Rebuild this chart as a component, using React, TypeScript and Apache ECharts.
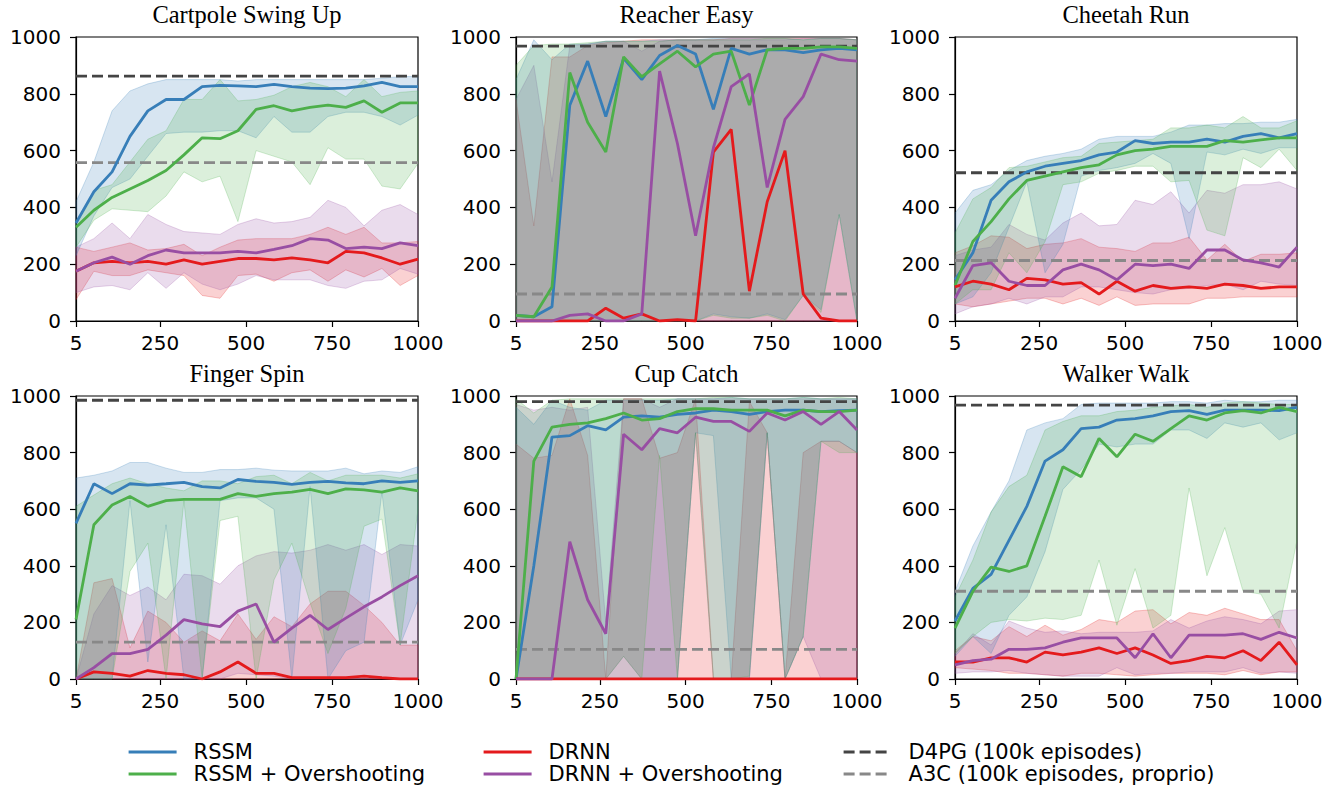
import React, { useEffect, useRef } from "react";
import * as echarts from "echarts";

// Episode positions of the evaluation points
const X = [5, 57, 110, 162, 214, 267, 319, 372, 424, 476, 529, 581, 633, 686, 738, 790, 843, 895, 948, 1000];
const X_TICKS = [5, 250, 500, 750, 1000];
const Z20 = [0, 0, 0, 0, 0, 0, 0, 0, 0, 0, 0, 0, 0, 0, 0, 0, 0, 0, 0, 0];

const TITLES = ["Cartpole Swing Up", "Reacher Easy", "Cheetah Run", "Finger Spin", "Cup Catch", "Walker Walk"];
const METHODS = ["RSSM", "RSSM + Overshooting", "DRNN", "DRNN + Overshooting"];
const BASELINES = ["D4PG (100k episodes)", "A3C (100k episodes, proprio)"];

// Cartpole Swing Up
const cartRssm = [345, 455, 525, 650, 740, 780, 780, 825, 830, 828, 825, 833, 825, 820, 818, 820, 828, 840, 825, 825];
const cartRssmHi = [420, 560, 740, 810, 835, 850, 850, 850, 850, 845, 850, 850, 850, 850, 850, 850, 850, 855, 860, 862];
const cartRssmLo = [230, 370, 470, 500, 580, 660, 665, 665, 670, 670, 645, 720, 665, 665, 720, 735, 735, 720, 690, 725];
const cartOver = [330, 390, 435, 465, 495, 530, 585, 645, 642, 670, 745, 758, 740, 752, 760, 752, 775, 735, 768, 768];
const cartOverHi = [340, 460, 480, 560, 640, 670, 780, 780, 850, 775, 780, 795, 825, 840, 825, 790, 850, 790, 805, 810];
const cartOverLo = [260, 355, 395, 390, 385, 440, 525, 490, 510, 350, 600, 580, 560, 480, 610, 570, 570, 475, 465, 555];
const cartDrnn = [175, 205, 210, 205, 210, 200, 215, 200, 210, 220, 220, 215, 222, 215, 205, 245, 240, 222, 200, 218];
const cartDrnnHi = [260, 245, 260, 275, 250, 255, 270, 230, 260, 285, 290, 290, 290, 305, 330, 305, 330, 275, 275, 280];
const cartDrnnLo = [75, 175, 160, 160, 180, 170, 160, 90, 80, 160, 165, 140, 170, 180, 140, 180, 155, 185, 125, 160];
const cartDrnnOver = [175, 205, 225, 200, 230, 250, 240, 240, 240, 245, 240, 252, 265, 290, 285, 255, 260, 255, 275, 265];
const cartDrnnOverHi = [260, 290, 345, 290, 375, 340, 315, 310, 305, 340, 360, 345, 350, 365, 425, 400, 335, 390, 410, 375];
const cartDrnnOverLo = [100, 120, 125, 110, 170, 115, 170, 130, 110, 130, 160, 145, 145, 145, 125, 115, 140, 145, 185, 165];
const cartBase = [862, 558];

// Reacher Easy
const reachRssm = [20, 15, 50, 760, 915, 720, 925, 850, 935, 970, 940, 745, 960, 940, 955, 955, 945, 955, 960, 955];
const reachRssmHi = [850, 990, 920, 975, 975, 985, 985, 985, 990, 990, 990, 995, 995, 995, 995, 995, 990, 995, 995, 990];
const reachRssmLo = [0, 0, 0, 0, 0, 0, 0, 0, 0, 0, 0, 25, 15, 10, 25, 5, 90, 40, 375, 0];
const reachOver = [20, 15, 120, 875, 700, 595, 930, 860, 905, 950, 895, 940, 950, 760, 955, 960, 960, 965, 965, 960];
const reachOverHi = [900, 970, 975, 975, 980, 985, 985, 985, 985, 990, 990, 990, 990, 990, 995, 995, 990, 995, 995, 990];
const reachOverLo = [0, 0, 0, 0, 0, 0, 0, 0, 0, 0, 0, 20, 10, 10, 20, 0, 90, 30, 375, 0];
const reachDrnn = [0, 0, 0, 0, 0, 45, 10, 25, 0, 5, 0, 595, 675, 105, 420, 600, 95, 10, 0, 0];
const reachDrnnHi = [780, 335, 930, 930, 970, 980, 985, 990, 990, 990, 990, 990, 995, 995, 995, 995, 995, 995, 995, 990];
const reachDrnnLo = Z20;
const reachDrnnOver = [0, 0, 0, 20, 25, 0, 0, 25, 880, 625, 300, 610, 825, 870, 470, 710, 790, 940, 920, 915];
const reachDrnnOverHi = [780, 900, 490, 970, 975, 985, 985, 950, 985, 990, 990, 990, 990, 990, 990, 990, 995, 995, 995, 990];
const reachDrnnOverLo = Z20;
const reachBase = [968, 95];

// Cheetah Run
const cheetRssm = [145, 240, 425, 490, 525, 545, 555, 565, 585, 595, 635, 625, 630, 630, 640, 630, 650, 660, 645, 660];
const cheetRssmHi = [380, 460, 480, 530, 565, 580, 590, 605, 640, 650, 650, 650, 665, 690, 690, 695, 695, 700, 700, 710];
const cheetRssmLo = [60, 85, 170, 330, 490, 170, 270, 510, 530, 540, 555, 590, 555, 290, 595, 585, 605, 590, 610, 610];
const cheetOver = [125, 280, 350, 430, 495, 510, 525, 540, 550, 585, 600, 605, 615, 615, 615, 635, 630, 638, 645, 645];
const cheetOverHi = [310, 430, 470, 540, 545, 560, 575, 580, 625, 630, 635, 640, 680, 680, 690, 680, 720, 680, 680, 705];
const cheetOverLo = [60, 110, 110, 240, 170, 280, 480, 490, 520, 530, 545, 545, 490, 495, 320, 300, 575, 540, 605, 530];
const cheetDrnn = [120, 140, 130, 110, 150, 145, 130, 135, 95, 140, 105, 125, 115, 120, 115, 130, 125, 115, 120, 120];
const cheetDrnnHi = [240, 265, 300, 295, 255, 270, 275, 290, 260, 255, 245, 275, 275, 295, 215, 270, 210, 235, 235, 240];
const cheetDrnnLo = [60, 50, 60, 70, 80, 80, 60, 80, 55, 85, 55, 60, 60, 60, 80, 80, 85, 85, 85, 85];
const cheetDrnnOver = [80, 195, 205, 140, 125, 125, 180, 200, 180, 145, 200, 195, 200, 185, 250, 250, 215, 205, 190, 260];
const cheetDrnnOverHi = [230, 250, 260, 340, 305, 285, 345, 380, 335, 340, 425, 410, 455, 380, 460, 450, 480, 480, 490, 465];
const cheetDrnnOverLo = [25, 50, 60, 80, 60, 85, 85, 120, 120, 110, 100, 95, 110, 115, 125, 130, 110, 140, 130, 125];
const cheetBase = [522, 213];

// Finger Spin
const fingRssm = [550, 690, 655, 690, 685, 690, 695, 680, 675, 705, 698, 695, 688, 695, 698, 693, 690, 700, 695, 700];
const fingRssmHi = [710, 720, 735, 765, 765, 745, 730, 730, 740, 740, 745, 738, 735, 735, 735, 745, 725, 735, 730, 750];
const fingRssmLo = [0, 0, 0, 630, 60, 545, 0, 0, 630, 640, 640, 600, 0, 680, 0, 100, 130, 660, 120, 280];
const fingOver = [210, 545, 615, 645, 610, 630, 635, 635, 635, 655, 645, 655, 660, 670, 655, 672, 668, 660, 675, 665];
const fingOverHi = [610, 650, 690, 710, 690, 675, 665, 700, 700, 690, 715, 720, 690, 730, 700, 720, 720, 720, 710, 725];
const fingOverLo = [0, 0, 0, 380, 480, 0, 630, 0, 560, 575, 0, 350, 480, 270, 90, 250, 540, 565, 120, 600];
const fingDrnn = [0, 25, 20, 10, 30, 20, 15, 0, 25, 60, 20, 20, 5, 5, 5, 5, 10, 5, 0, 0];
const fingDrnnHi = [0, 340, 355, 110, 240, 200, 130, 170, 135, 230, 140, 220, 185, 265, 310, 310, 260, 200, 120, 120];
const fingDrnnLo = Z20;
const fingDrnnOver = [0, 40, 90, 90, 105, 155, 210, 195, 185, 240, 265, 130, 180, 225, 175, 215, 255, 290, 330, 365];
const fingDrnnOverHi = [0, 230, 330, 295, 325, 280, 370, 365, 335, 400, 435, 450, 445, 455, 475, 455, 475, 440, 475, 470];
const fingDrnnOverLo = [0, 0, 0, 0, 0, 0, 0, 0, 0, 20, 15, 10, 0, 0, 0, 0, 0, 0, 0, 0];
const fingBase = [985, 130];

// Cup Catch
const cupRssm = [0, 400, 855, 860, 895, 880, 925, 930, 925, 935, 940, 950, 945, 935, 945, 950, 950, 945, 948, 950];
const cupRssmHi = [960, 900, 985, 960, 950, 985, 985, 985, 985, 990, 990, 990, 995, 990, 990, 990, 995, 990, 990, 990];
const cupRssmLo = [0, 0, 0, 0, 0, 0, 0, 0, 0, 0, 870, 860, 0, 0, 870, 0, 150, 840, 840, 800];
const cupOver = [0, 770, 890, 900, 905, 920, 940, 915, 920, 945, 955, 955, 950, 950, 950, 930, 950, 945, 945, 950];
const cupOverHi = [990, 940, 985, 990, 990, 990, 990, 990, 990, 990, 990, 995, 995, 990, 990, 990, 995, 990, 995, 990];
const cupOverLo = [0, 0, 0, 0, 0, 0, 80, 0, 790, 0, 870, 0, 0, 10, 870, 0, 150, 840, 800, 800];
const cupDrnn = Z20;
const cupDrnnHi = [830, 780, 790, 990, 790, 0, 990, 990, 780, 800, 990, 0, 0, 980, 870, 0, 800, 840, 840, 800];
const cupDrnnLo = Z20;
const cupDrnnOver = [0, 0, 0, 485, 280, 160, 865, 810, 885, 870, 925, 910, 910, 875, 940, 915, 945, 900, 945, 880];
const cupDrnnOverHi = [970, 950, 960, 950, 960, 200, 990, 990, 960, 990, 990, 990, 990, 990, 990, 990, 990, 990, 990, 990];
const cupDrnnOverLo = [0, 0, 0, 0, 0, 0, 80, 0, 0, 0, 870, 0, 0, 0, 870, 0, 150, 0, 0, 0];
const cupBase = [980, 105];

// Walker Walk
const walkRssm = [205, 320, 370, 490, 610, 770, 810, 885, 890, 915, 920, 930, 945, 948, 935, 950, 950, 950, 948, 960];
const walkRssmHi = [310, 470, 590, 700, 880, 905, 920, 970, 975, 975, 975, 975, 980, 980, 975, 985, 980, 980, 985, 985];
const walkRssmLo = [80, 150, 90, 225, 290, 450, 670, 740, 830, 820, 830, 830, 880, 880, 850, 905, 890, 905, 845, 870];
const walkOver = [180, 310, 395, 380, 400, 575, 750, 715, 850, 785, 865, 840, 885, 930, 915, 940, 948, 940, 960, 945];
const walkOverHi = [290, 420, 590, 680, 720, 880, 910, 930, 930, 945, 950, 960, 965, 970, 960, 975, 980, 975, 970, 970];
const walkOverLo = [90, 150, 200, 210, 205, 215, 210, 225, 420, 190, 390, 180, 225, 675, 365, 535, 310, 300, 180, 490];
const walkDrnn = [60, 60, 75, 75, 60, 95, 85, 95, 110, 90, 110, 85, 55, 65, 80, 75, 100, 65, 130, 50];
const walkDrnnHi = [100, 150, 135, 185, 150, 190, 155, 175, 210, 200, 240, 245, 195, 235, 225, 250, 230, 210, 210, 100];
const walkDrnnLo = [40, 35, 30, 20, 20, 15, 10, 20, 20, 15, 10, 15, 20, 20, 20, 15, 30, 15, 25, 25];
const walkDrnnOver = [50, 65, 70, 105, 105, 110, 130, 145, 145, 145, 75, 160, 75, 155, 155, 155, 160, 140, 165, 145];
const walkDrnnOverHi = [90, 160, 120, 205, 180, 165, 170, 160, 165, 165, 165, 170, 210, 180, 205, 220, 210, 195, 240, 245];
const walkDrnnOverLo = [20, 25, 25, 30, 20, 15, 10, 10, 10, 40, 15, 20, 20, 25, 25, 25, 40, 20, 25, 20];
const walkBase = [968, 310];

const PANEL_DATA = [
  { lines: [cartRssm, cartOver, cartDrnn, cartDrnnOver], hi: [cartRssmHi, cartOverHi, cartDrnnHi, cartDrnnOverHi], lo: [cartRssmLo, cartOverLo, cartDrnnLo, cartDrnnOverLo], base: cartBase },
  { lines: [reachRssm, reachOver, reachDrnn, reachDrnnOver], hi: [reachRssmHi, reachOverHi, reachDrnnHi, reachDrnnOverHi], lo: [reachRssmLo, reachOverLo, reachDrnnLo, reachDrnnOverLo], base: reachBase },
  { lines: [cheetRssm, cheetOver, cheetDrnn, cheetDrnnOver], hi: [cheetRssmHi, cheetOverHi, cheetDrnnHi, cheetDrnnOverHi], lo: [cheetRssmLo, cheetOverLo, cheetDrnnLo, cheetDrnnOverLo], base: cheetBase },
  { lines: [fingRssm, fingOver, fingDrnn, fingDrnnOver], hi: [fingRssmHi, fingOverHi, fingDrnnHi, fingDrnnOverHi], lo: [fingRssmLo, fingOverLo, fingDrnnLo, fingDrnnOverLo], base: fingBase },
  { lines: [cupRssm, cupOver, cupDrnn, cupDrnnOver], hi: [cupRssmHi, cupOverHi, cupDrnnHi, cupDrnnOverHi], lo: [cupRssmLo, cupOverLo, cupDrnnLo, cupDrnnOverLo], base: cupBase },
  { lines: [walkRssm, walkOver, walkDrnn, walkDrnnOver], hi: [walkRssmHi, walkOverHi, walkDrnnHi, walkDrnnOverHi], lo: [walkRssmLo, walkOverLo, walkDrnnLo, walkDrnnOverLo], base: walkBase },
];

// Styling / layout
const COLORS = ["#377eb8", "#4daf4a", "#e41a1c", "#984ea3"];
const RGB = ["55,126,184", "77,175,74", "228,26,28", "152,78,163"];
const BAND_ORDER = [2, 3, 0, 1];
const BASE_COLORS = ["#444444", "#888888"];
const COL_LEFT = [76, 516, 955];
const COL_W = [342, 341, 342];
const ROW_TOP = [37, 396];
const ROW_H = [284, 283];
const TICK_FONT = "DejaVu Sans";
const TITLE_FONT = "Liberation Serif";

function buildOption() {
  const grids: any[] = [];
  const xAxes: any[] = [];
  const yAxes: any[] = [];
  const series: any[] = [];
  const titles: any[] = [];

  PANEL_DATA.forEach((p, k) => {
    const r = Math.floor(k / 3);
    const c = k % 3;
    grids.push({
      left: COL_LEFT[c],
      top: ROW_TOP[r],
      width: COL_W[c],
      height: ROW_H[r],
      show: true,
      borderColor: "#000",
      borderWidth: 1.2,
      backgroundColor: "transparent",
      containLabel: false,
    });
    titles.push({
      text: TITLES[k],
      left: COL_LEFT[c] + COL_W[c] / 2,
      top: ROW_TOP[r] - 35,
      textAlign: "center",
      padding: 0,
      textStyle: { fontFamily: TITLE_FONT, fontSize: 24.5, fontWeight: "normal", color: "#000" },
    });
    xAxes.push({
      type: "value",
      gridIndex: k,
      min: 5,
      max: 1000,
      axisLine: { show: true, onZero: false, lineStyle: { color: "#000", width: 1.2 } },
      axisTick: { show: true, length: 6, lineStyle: { color: "#000", width: 1.2 }, customValues: X_TICKS },
      axisLabel: {
        customValues: X_TICKS,
        formatter: (v: number) => String(v),
        fontFamily: TICK_FONT,
        fontSize: 20,
        color: "#000",
        margin: 12,
        hideOverlap: false,
      },
      splitLine: { show: false },
    });
    yAxes.push({
      type: "value",
      gridIndex: k,
      min: 0,
      max: 1000,
      interval: 200,
      axisLine: { show: true, onZero: false, lineStyle: { color: "#000", width: 1.2 } },
      axisTick: { show: true, length: 6, lineStyle: { color: "#000", width: 1.2 } },
      axisLabel: { formatter: (v: number) => String(v), fontFamily: TICK_FONT, fontSize: 20, color: "#000", margin: 15 },
      splitLine: { show: false },
    });

    // shaded bands
    BAND_ORDER.forEach((m) => {
      const hi = p.hi[m];
      const lo = p.lo[m];
      const rgb = RGB[m];
      series.push({
        type: "custom",
        name: "band" + k + "_" + m,
        xAxisIndex: k,
        yAxisIndex: k,
        silent: true,
        z: 2,
        data: [[X[0], lo[0]]],
        renderItem: (_params: any, api: any) => {
          const pts: number[][] = [];
          for (let i = 0; i < X.length; i++) pts.push(api.coord([X[i], hi[i]]));
          for (let i = X.length - 1; i >= 0; i--) pts.push(api.coord([X[i], lo[i]]));
          return {
            type: "polygon",
            shape: { points: pts },
            style: { fill: `rgba(${rgb},0.2)`, stroke: `rgba(${rgb},0.25)`, lineWidth: 1 },
          };
        },
      });
    });
    // baselines
    for (let b = 0; b < 2; b++) {
      series.push({
        type: "line",
        name: BASELINES[b],
        xAxisIndex: k,
        yAxisIndex: k,
        symbol: "none",
        silent: true,
        z: 3,
        color: BASE_COLORS[b],
        lineStyle: { color: BASE_COLORS[b], width: 2.8, type: [11, 5] },
        data: [[X[0], p.base[b]], [X[X.length - 1], p.base[b]]],
      });
    }
    // mean lines
    for (let m = 0; m < 4; m++) {
      series.push({
        type: "line",
        name: METHODS[m],
        xAxisIndex: k,
        yAxisIndex: k,
        symbol: "none",
        silent: true,
        z: 4,
        color: COLORS[m],
        lineStyle: { color: COLORS[m], width: 2.8 },
        data: X.map((x, i) => [x, p.lines[m][i]]),
      });
    }
  });

  const legendCommon = {
    orient: "vertical",
    top: 741,
    padding: 0,
    itemGap: 0,
    itemWidth: 48,
    itemHeight: 22,
    selectedMode: false,
    itemStyle: { opacity: 0, borderWidth: 0 },
    lineStyle: { width: 3.2 },
    textStyle: { fontFamily: TICK_FONT, fontSize: 21, lineHeight: 22, color: "#000", padding: [0, 0, 0, 12] },
  };
  const legends = [
    { ...legendCommon, left: 127, data: [METHODS[0], METHODS[1]] },
    { ...legendCommon, left: 482, data: [METHODS[2], METHODS[3]] },
    { ...legendCommon, left: 842, data: [BASELINES[0], BASELINES[1]] },
  ];

  return {
    animation: false,
    backgroundColor: "#ffffff",
    title: titles,
    legend: legends,
    grid: grids,
    xAxis: xAxes,
    yAxis: yAxes,
    series,
  };
}

export default function App() {
  const ref = useRef<HTMLDivElement>(null);
  useEffect(() => {
    document.body.style.margin = "0";
    if (!ref.current) return;
    const chart = echarts.init(ref.current, undefined, { renderer: "svg" });
    chart.setOption(buildOption() as any);
    return () => chart.dispose();
  }, []);
  return <div ref={ref} style={{ width: 1329, height: 794 }} />;
}
